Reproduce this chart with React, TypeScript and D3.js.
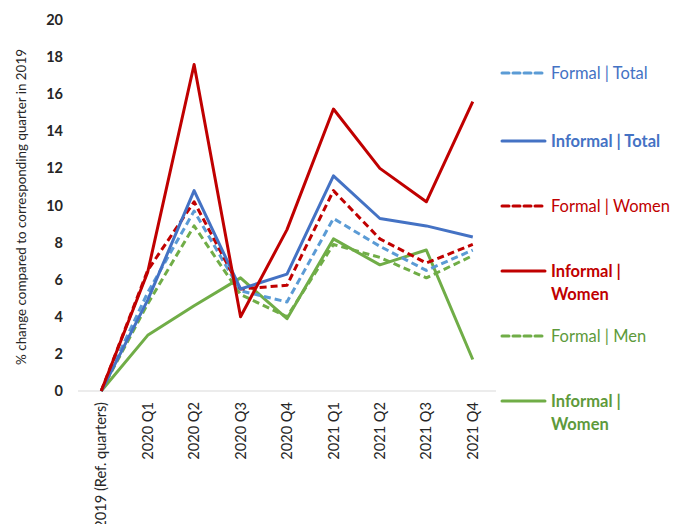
import React from "react";
import * as d3 from "d3";

const categories = ["2019 (Ref. quarters)", "2020 Q1", "2020 Q2", "2020 Q3", "2020 Q4", "2021 Q1", "2021 Q2", "2021 Q3", "2021 Q4"];
const yTicks = [0, 2, 4, 6, 8, 10, 12, 14, 16, 18, 20];

const formalTotal = [0, 5.3, 9.7, 5.4, 4.8, 9.3, 7.8, 6.5, 7.6];
const informalTotal = [0, 4.9, 10.8, 5.5, 6.3, 11.6, 9.3, 8.9, 8.3];
const formalWomen = [0, 6.5, 10.2, 5.5, 5.7, 10.8, 8.2, 6.9, 7.9];
const informalWomen = [0, 6.4, 17.6, 4.0, 8.7, 15.2, 12.0, 10.2, 15.6];
const formalMen = [0, 4.7, 8.9, 5.2, 4.0, 7.9, 7.2, 6.1, 7.3];
const informalWomen2 = [0, 3.0, 4.6, 6.1, 3.9, 8.2, 6.8, 7.6, 1.7];

const seriesNames = ["Formal | Total", "Informal | Total", "Formal | Women", "Informal | Women", "Formal | Men", "Informal | Women"];

const series = [
  { name: seriesNames[0], values: formalTotal, color: "#5B9BD5", text: "#4472C4", dashed: true, legendY: 73, lines: ["Formal | Total"] },
  { name: seriesNames[1], values: informalTotal, color: "#4472C4", text: "#4472C4", dashed: false, legendY: 141, lines: ["Informal | Total"] },
  { name: seriesNames[2], values: formalWomen, color: "#C00000", text: "#C00000", dashed: true, legendY: 206, lines: ["Formal | Women"] },
  { name: seriesNames[3], values: informalWomen, color: "#C00000", text: "#C00000", dashed: false, legendY: 271, lines: ["Informal |", "Women"] },
  { name: seriesNames[4], values: formalMen, color: "#70AD47", text: "#5E9A3B", dashed: true, legendY: 336, lines: ["Formal | Men"] },
  { name: seriesNames[5], values: informalWomen2, color: "#70AD47", text: "#5E9A3B", dashed: false, legendY: 401, lines: ["Informal |", "Women"] },
];

const FONT = "Lato, 'Open Sans', sans-serif";

export default function App() {
  const W = 678, H = 524;
  const x = d3.scaleBand<string>().domain(categories).range([78, 496]);
  const y = d3.scaleLinear().domain([0, 20]).range([391, 20]);
  const px = (c: string) => (x(c) as number) + x.bandwidth() / 2;
  const line = d3.line<number>().x((_, i) => px(categories[i])).y((v) => y(v));
  const drawOrder = [5, 4, 0, 2, 1, 3];

  return (
    <svg width={W} height={H} style={{ position: "absolute", left: 0, top: 0, background: "#fff" }} fontFamily={FONT}>
      <line x1={78} x2={496} y1={y(0)} y2={y(0)} stroke="#d9d9d9" strokeWidth={1} />
      {yTicks.map((t) => (
        <text key={t} x={63} y={y(t)} dy="0.35em" textAnchor="end" fontSize={14.5} fontWeight="bold" fill="#262626">
          {t}
        </text>
      ))}
      <text transform={`translate(21,207) rotate(-90)`} textAnchor="middle" dy="0.35em" fontSize={13.4} fill="#262626">
        % change compared to corresponding  quarter in 2019
      </text>
      {categories.map((c) => (
        <text key={c} transform={`translate(${px(c)},402) rotate(-90)`} textAnchor="end" dy="0.35em" fontSize={14.6} fill="#262626">
          {c}
        </text>
      ))}
      {drawOrder.map((i) => {
        const s = series[i];
        return (
          <path key={i} d={line(s.values) || ""} fill="none" stroke={s.color} strokeWidth={3}
            strokeDasharray={s.dashed ? "7 4" : undefined} strokeLinejoin="round" />
        );
      })}
      {series.map((s, i) => (
        <g key={i}>
          <line x1={502} x2={545} y1={s.legendY} y2={s.legendY} stroke={s.color} strokeWidth={3}
            strokeDasharray={s.dashed ? "7 4" : undefined} strokeLinecap="round" />
          {s.lines.map((t, j) => (
            <text key={j} x={551} y={s.legendY + j * 23} dy="0.35em" fontSize={16.5}
              fontWeight={s.dashed ? "normal" : "bold"} fill={s.text}>
              {t}
            </text>
          ))}
        </g>
      ))}
    </svg>
  );
}
